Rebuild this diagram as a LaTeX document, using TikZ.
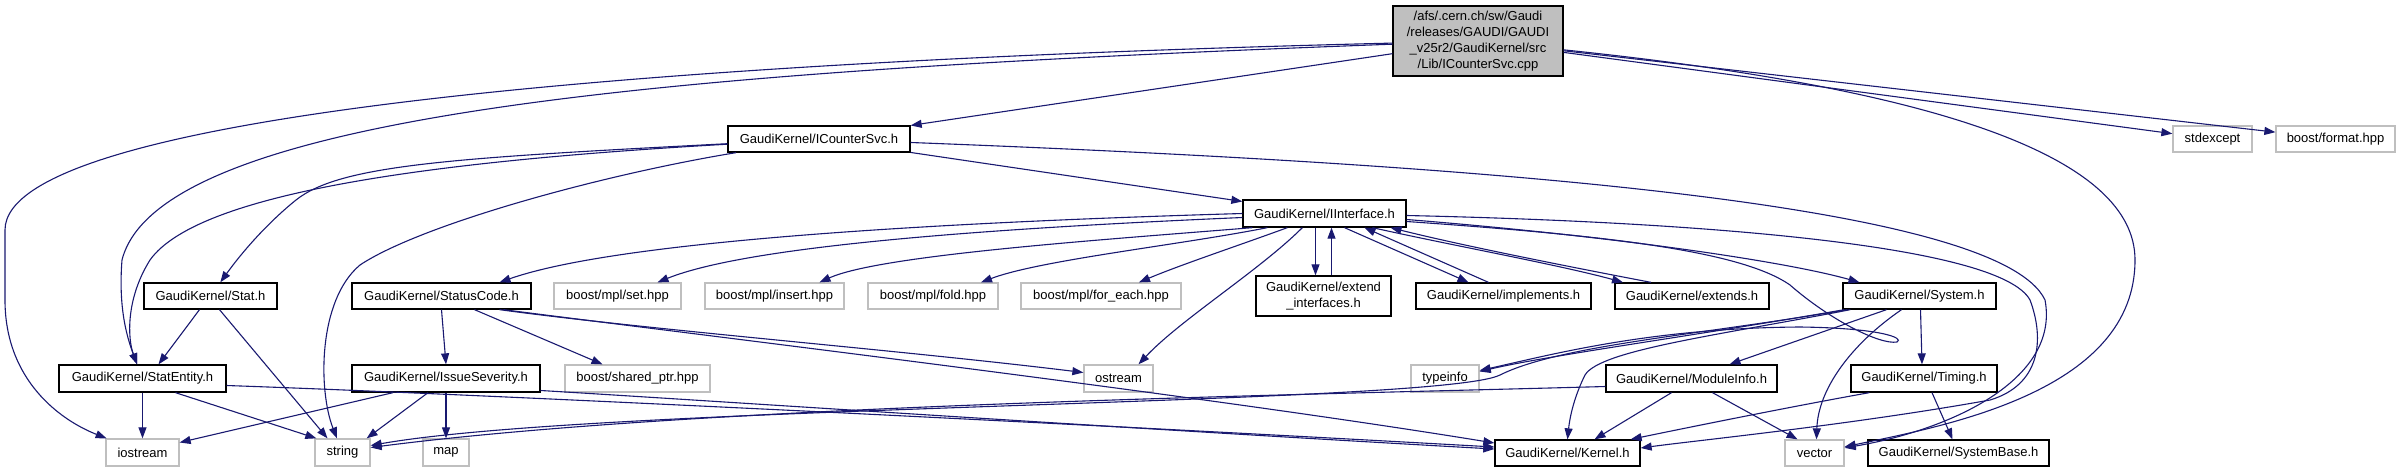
\documentclass[tikz,border=0pt]{standalone}
\usepackage{fontspec}
\setmainfont{Liberation Sans}
\usetikzlibrary{arrows.meta}
\definecolor{edgeblue}{HTML}{191970}
\definecolor{extgray}{HTML}{BFBFBF}
\tikzset{
  pbox/.style={draw=black, line width=1.3pt, fill=white, inner sep=0pt, font=\fontsize{13}{16}\selectfont, minimum height=26pt},
  xbox/.style={draw=extgray, line width=1.3pt, fill=white, inner sep=0pt, font=\fontsize{13}{16}\selectfont, minimum height=27pt},
  dep/.style={draw=edgeblue, line width=1.1pt, -{Triangle[length=11pt,width=8pt]}, fill=none},
}
\begin{document}
\begin{tikzpicture}[x=1pt,y=-1pt]
\useasboundingbox (0,0) rectangle (2405,472);
% row 0
\node[pbox, fill=extgray, minimum width=170pt, minimum height=70pt, align=center] (root) at (1478,41) {/afs/.cern.ch/sw/Gaudi\\/releases/GAUDI/GAUDI\\\_v25r2/GaudiKernel/src\\/Lib/ICounterSvc.cpp};
% row 1
\node[pbox, minimum width=182pt] (icsvc) at (819,139) {GaudiKernel/ICounterSvc.h};
\node[xbox, minimum width=79pt, minimum height=26pt] (stdexcept) at (2212.5,139) {stdexcept};
\node[xbox, minimum width=119pt, minimum height=26pt] (format) at (2335.5,139) {boost/format.hpp};
% row 2
\node[pbox, minimum width=163pt, minimum height=27pt] (iint) at (1324.5,213.5) {GaudiKernel/IInterface.h};
% row 3
\node[pbox, minimum width=133pt] (stat) at (210.5,296) {GaudiKernel/Stat.h};
\node[pbox, minimum width=179pt] (statuscode) at (441.5,296) {GaudiKernel/StatusCode.h};
\node[xbox, minimum width=127pt, minimum height=26pt] (set) at (617.5,296) {boost/mpl/set.hpp};
\node[xbox, minimum width=139pt, minimum height=26pt] (insert) at (774.5,296) {boost/mpl/insert.hpp};
\node[xbox, minimum width=130pt, minimum height=26pt] (fold) at (933,296) {boost/mpl/fold.hpp};
\node[xbox, minimum width=160pt, minimum height=26pt] (foreach) at (1101,296) {boost/mpl/for\_each.hpp};
\node[pbox, minimum width=135pt, minimum height=40pt, align=center] (extif) at (1323.5,296) {GaudiKernel/extend\\\_interfaces.h};
\node[pbox, minimum width=175pt] (impl) at (1503.5,296) {GaudiKernel/implements.h};
\node[pbox, minimum width=154pt] (extends) at (1692,296) {GaudiKernel/extends.h};
\node[pbox, minimum width=153pt] (system) at (1919.5,296) {GaudiKernel/System.h};
% row 4
\node[pbox, minimum width=167pt, minimum height=27pt] (statentity) at (142.5,378.5) {GaudiKernel/StatEntity.h};
\node[pbox, minimum width=188pt, minimum height=27pt] (issue) at (446,378.5) {GaudiKernel/IssueSeverity.h};
\node[xbox, minimum width=145pt] (sharedptr) at (637.5,378.5) {boost/shared\_ptr.hpp};
\node[xbox, minimum width=69pt] (ostream) at (1118.5,378.5) {ostream};
\node[xbox, minimum width=68pt] (typeinfo) at (1445,378.5) {typeinfo};
\node[pbox, minimum width=171pt, minimum height=27pt] (moduleinfo) at (1691.5,378.5) {GaudiKernel/ModuleInfo.h};
\node[pbox, minimum width=146pt, minimum height=27pt] (timing) at (1924,378.5) {GaudiKernel/Timing.h};
% row 5
\node[xbox, minimum width=73pt] (iostream) at (142.5,452.5) {iostream};
\node[xbox, minimum width=55pt] (string) at (342.5,452.5) {string};
\node[xbox, minimum width=46pt] (map) at (446,452.5) {map};
\node[pbox, minimum width=145pt] (kernel) at (1567.5,453) {GaudiKernel/Kernel.h};
\node[xbox, minimum width=59pt, minimum height=26pt] (vector) at (1814.5,453) {vector};
\node[pbox, minimum width=181pt] (systembase) at (1958.5,453) {GaudiKernel/SystemBase.h};

% ---- edges from root
\draw[dep] (root) -- (icsvc);
\draw[dep] (root) -- (stdexcept);
\draw[dep] (root) -- (format);
\draw[dep] (root) .. controls (1950,90) and (2135,160) .. (2135,260) .. controls (2135,390) and (1950,425) .. (vector);
\draw[dep] (root) .. controls (700,60) and (5,110) .. (5,230) -- (5,300) .. controls (5,380) and (60,420) .. (iostream);
\draw[dep] (root) .. controls (700,70) and (160,110) .. (122,260) .. controls (118,310) and (128,340) .. (statentity);
% ---- edges from ICounterSvc
\draw[dep] (icsvc) -- (iint);
\draw[dep] (icsvc) .. controls (450,160) and (200,190) .. (150,260) .. controls (125,300) and (128,340) .. (statentity);
\draw[dep] (icsvc) .. controls (450,158) and (340,165) .. (296,200) .. controls (265,225) and (240,255) .. (stat);
\draw[dep] (icsvc) .. controls (600,175) and (420,225) .. (360,265) .. controls (318,300) and (318,390) .. (string);
\draw[dep] (icsvc) .. controls (1500,165) and (2000,205) .. (2045,300) .. controls (2060,380) and (1950,430) .. (vector);
% ---- edges from IInterface
\draw[dep] (iint.west) .. controls (950,222) and (620,240) .. ([xshift=58pt]statuscode.north);
\draw[dep] ([yshift=-4pt]iint.west) .. controls (1000,228) and (750,245) .. ([xshift=40pt]set.north);
\draw[dep] ([xshift=10pt]iint.south west) .. controls (1100,240) and (880,255) .. ([xshift=45pt]insert.north);
\draw[dep] ([xshift=25pt]iint.south west) .. controls (1180,245) and (1040,260) .. ([xshift=48pt]fold.north);
\draw[dep] ([xshift=45pt]iint.south west) .. controls (1240,245) and (1180,265) .. ([xshift=38pt]foreach.north);
\draw[dep] ([xshift=60pt]iint.south west) .. controls (1260,270) and (1180,320) .. ([xshift=20pt]ostream.north);
\draw[dep] ([xshift=-9pt]iint.south) -- ([xshift=-8pt]extif.north);
\draw[dep] ([xshift=8pt]extif.north) -- ([xshift=7pt]iint.south);
\draw[dep] ([xshift=20pt]iint.south) -- ([xshift=-35pt]impl.north);
\draw[dep] ([xshift=-15pt]impl.north) -- ([xshift=40pt]iint.south);
\draw[dep] ([xshift=48pt]iint.south) .. controls (1450,245) and (1560,265) .. ([xshift=-69pt]extends.north);
\draw[dep] ([xshift=-41pt]extends.north) .. controls (1560,265) and (1460,245) .. ([xshift=66pt]iint.south);
\draw[dep] ([yshift=-6pt]iint.east) .. controls (1600,235) and (1780,260) .. ([xshift=-60pt]system.north);
\draw[dep] ([yshift=-8pt]iint.east) .. controls (1600,235) and (1740,250) .. (1790,285) .. controls (1830,320) and (1880,345) .. (1897,342) .. controls (1905,338) and (1880,328) .. (1800,327) .. controls (1650,328) and (1550,355) .. ([yshift=8pt]typeinfo.east);
\draw[dep] ([yshift=-2pt]iint.east) .. controls (1700,222) and (2000,245) .. (2030,300) .. controls (2045,340) and (2040,385) .. (1990,400) .. controls (1850,425) and (1700,440) .. ([yshift=5pt]kernel.east);
% ---- edges from StatusCode
\draw[dep] (statuscode.south) -- (issue.north);
\draw[dep] ([xshift=33pt]statuscode.south) -- ([xshift=-35pt]sharedptr.north);
\draw[dep] ([xshift=58pt]statuscode.south) .. controls (650,330) and (900,350) .. ([yshift=6pt]ostream.west);
\draw[dep] ([xshift=62pt]statuscode.south) .. controls (700,335) and (1200,395) .. ([yshift=10pt]kernel.west);
% ---- edges from Stat
\draw[dep] ([xshift=-11pt]stat.south) -- ([xshift=16pt]statentity.north);
\draw[dep] ([xshift=9pt]stat.south) -- ([xshift=-15pt]string.north);
% ---- edges from StatEntity
\draw[dep] (statentity.south) -- (iostream.north);
\draw[dep] ([xshift=33pt]statentity.south) -- ([xshift=2pt]string.north west);
\draw[dep] ([yshift=-7pt]statentity.east) .. controls (500,395) and (1100,425) .. ([yshift=6pt]kernel.west);
% ---- edges from IssueSeverity
\draw[dep] ([xshift=-53pt]issue.south) -- ([yshift=10pt]iostream.east);
\draw[dep] ([xshift=-18pt]issue.south) -- ([xshift=-4pt]string.north east);
\draw[dep] (issue.south) -- (map.north);
\draw[dep] ([yshift=-12pt]issue.east) .. controls (700,400) and (1150,430) .. ([yshift=4pt]kernel.west);
% ---- edges from System
\draw[dep] ([xshift=2pt]system.south west) .. controls (1700,335) and (1550,355) .. ([yshift=7pt]typeinfo.east);
\draw[dep] ([xshift=5pt]system.south west) .. controls (1700,335) and (1560,345) .. (1500,375) .. controls (1440,405) and (600,405) .. ([yshift=7pt]string.east);
\draw[dep] ([xshift=8pt]system.south west) .. controls (1720,335) and (1600,350) .. (1585,375) .. controls (1575,395) and (1570,415) .. (kernel.north);
\draw[dep] ([xshift=-33pt]system.south) -- ([xshift=38pt]moduleinfo.north);
\draw[dep] ([xshift=-18pt]system.south) .. controls (1850,345) and (1818,390) .. ([xshift=2pt]vector.north);
\draw[dep] ([xshift=1pt]system.south) -- ([xshift=-2pt]timing.north);
% ---- edges from ModuleInfo
\draw[dep] ([yshift=-8pt]moduleinfo.west) .. controls (1300,395) and (700,405) .. ([yshift=5pt]string.east);
\draw[dep] ([xshift=-20pt]moduleinfo.south) -- ([xshift=27pt]kernel.north);
\draw[dep] ([xshift=21pt]moduleinfo.south) -- ([xshift=-17pt]vector.north);
% ---- edges from Timing
\draw[dep] ([xshift=19pt]timing.south west) .. controls (1800,405) and (1700,425) .. ([xshift=-10pt]kernel.north east);
\draw[dep] ([xshift=8pt]timing.south) -- ([xshift=-6pt]systembase.north);
\end{tikzpicture}
\end{document}
